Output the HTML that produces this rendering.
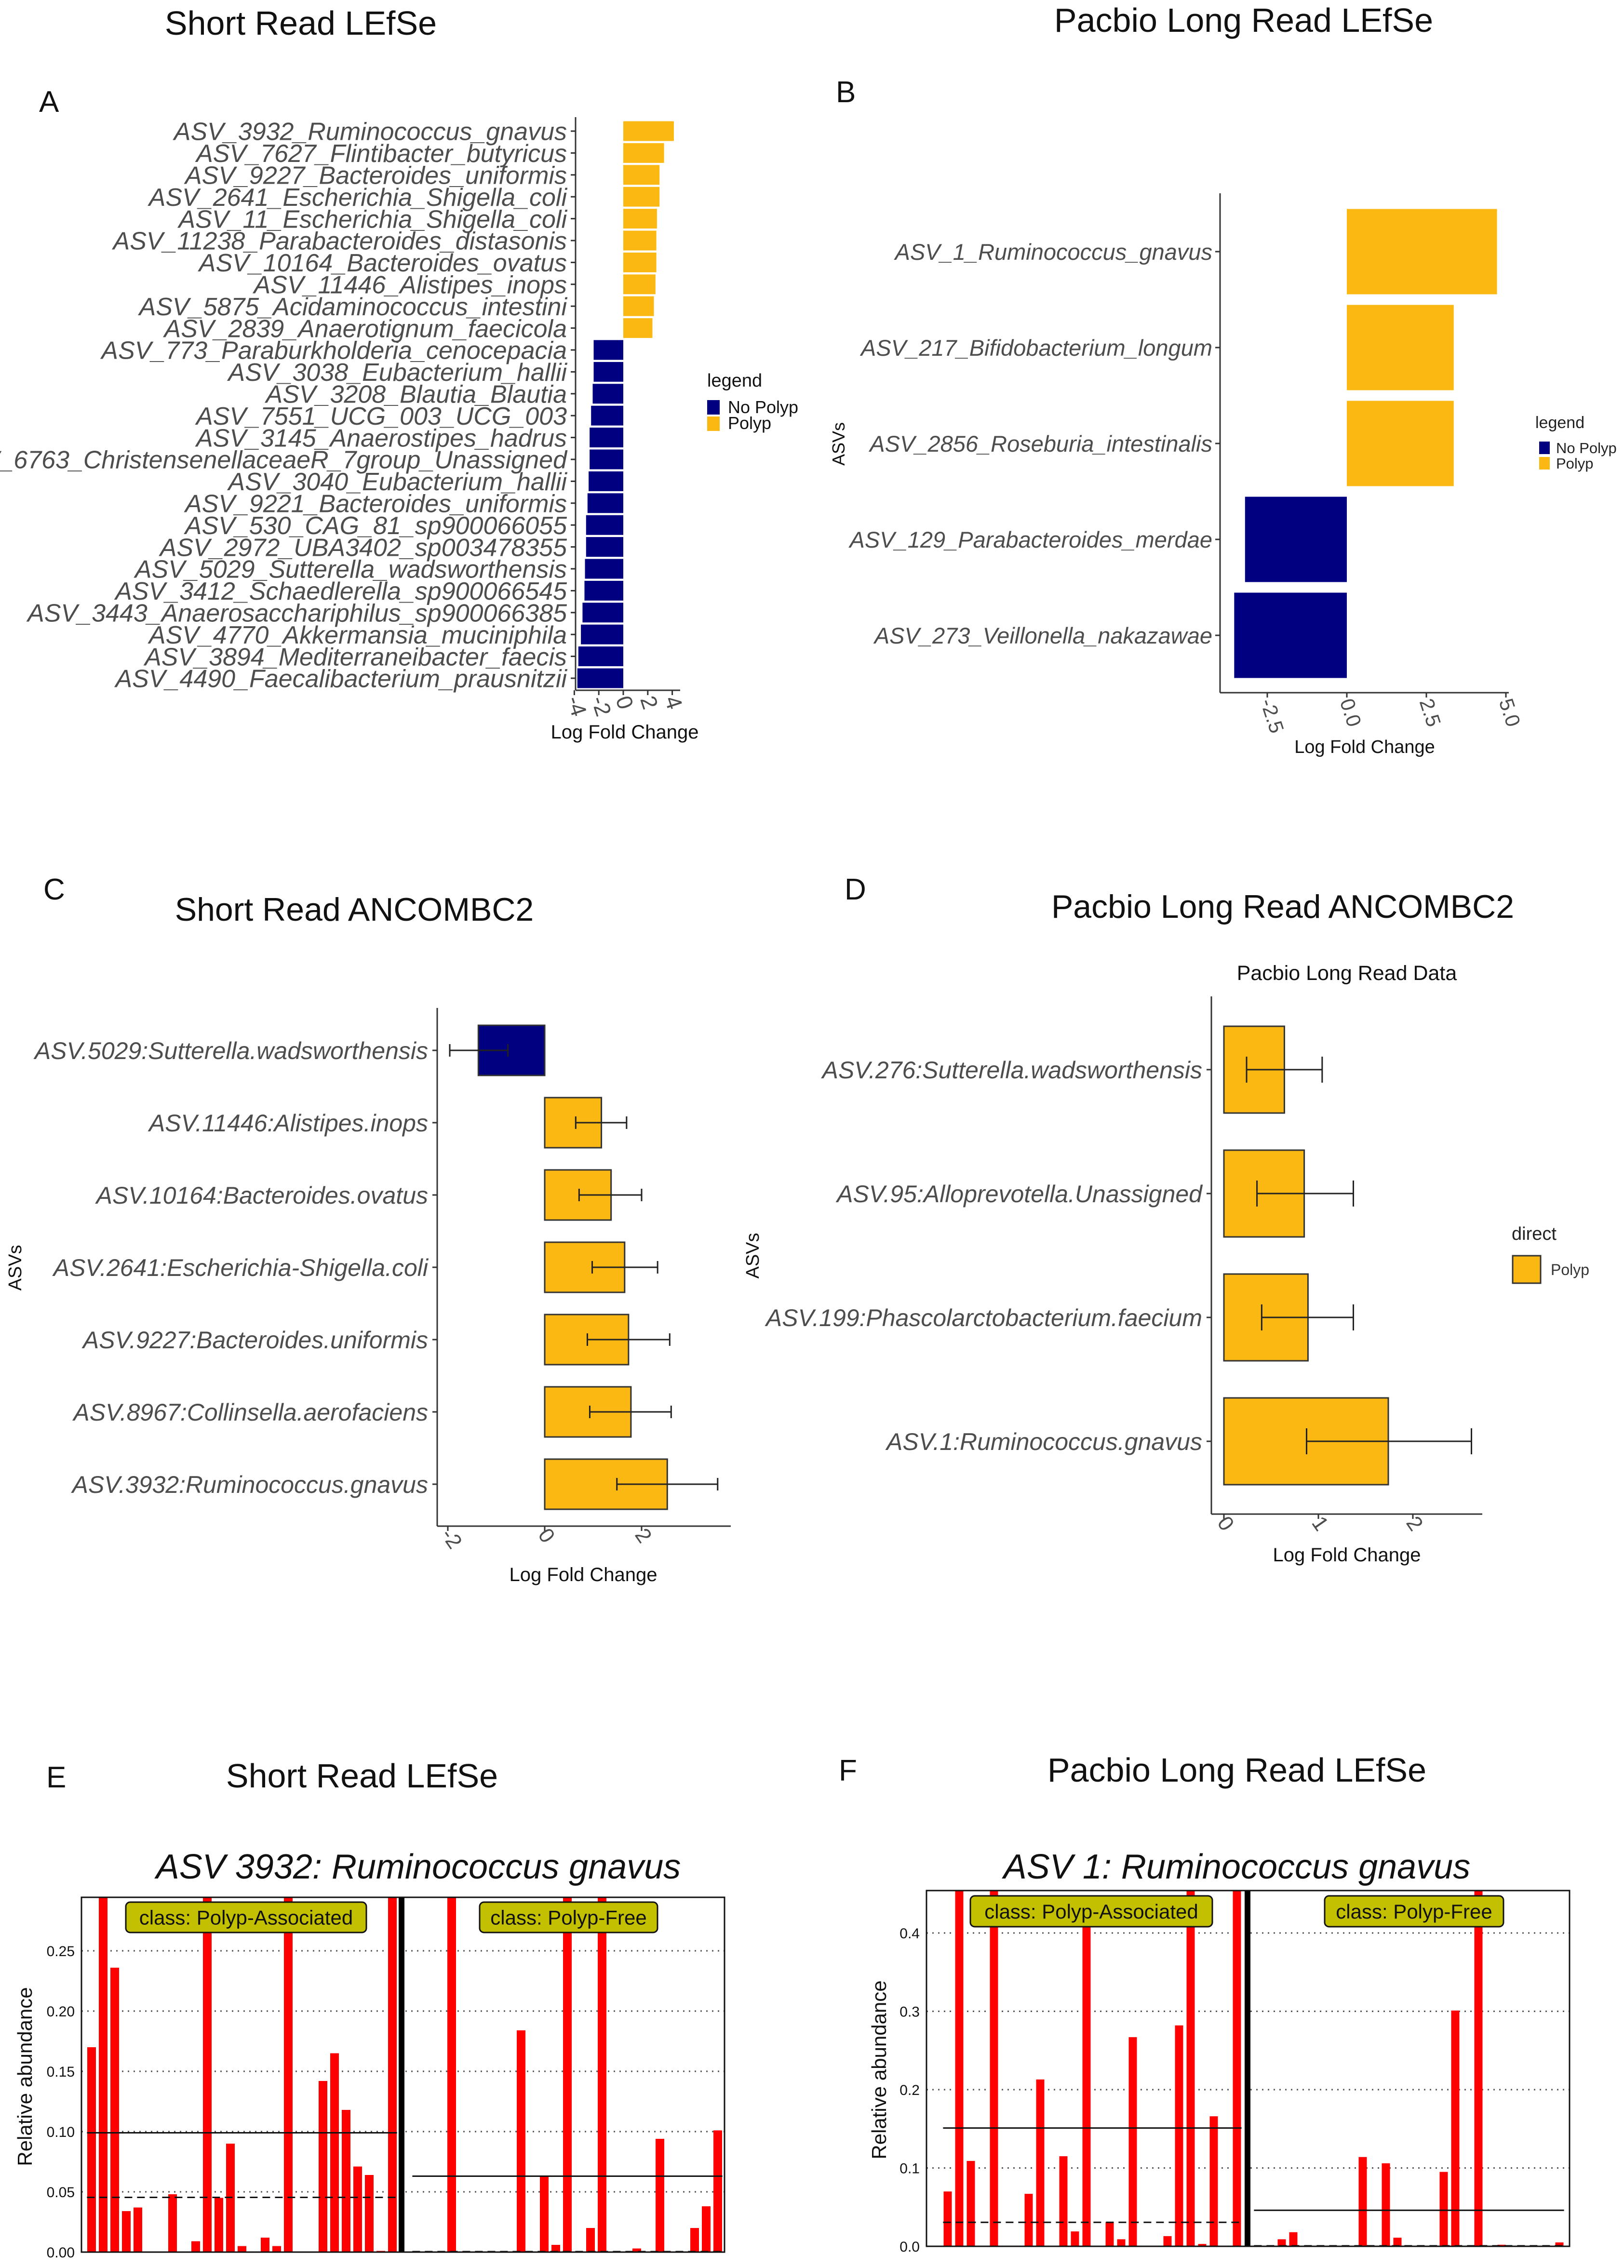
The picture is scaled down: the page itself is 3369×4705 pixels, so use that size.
<!DOCTYPE html>
<html><head><meta charset="utf-8"><style>
html,body{margin:0;padding:0;background:#fff;}
svg{display:block;font-family:"Liberation Sans",sans-serif;}
</style></head><body>
<svg id="fig" xmlns="http://www.w3.org/2000/svg" width="3369" height="4705" viewBox="0 0 3369 4705">
<rect x="0" y="0" width="3369" height="4705" fill="#fff"/>
<text x="624" y="72" font-size="70" text-anchor="middle" fill="#111">Short Read LEfSe</text>
<text x="2580" y="66" font-size="70" text-anchor="middle" fill="#111">Pacbio Long Read LEfSe</text>
<text x="81" y="232" font-size="62" fill="#111">A</text>
<text x="1734" y="212" font-size="62" fill="#111">B</text>
<text x="90" y="1866" font-size="62" fill="#111">C</text>
<text x="1752" y="1866" font-size="62" fill="#111">D</text>
<text x="735" y="1910" font-size="68" text-anchor="middle" fill="#111">Short Read ANCOMBC2</text>
<text x="2661" y="1904" font-size="68" text-anchor="middle" fill="#111">Pacbio Long Read ANCOMBC2</text>
<text x="2794" y="2033" font-size="43" text-anchor="middle" fill="#111">Pacbio Long Read Data</text>
<text x="96" y="3708" font-size="62" fill="#111">E</text>
<text x="1740" y="3694" font-size="62" fill="#111">F</text>
<text x="751" y="3708" font-size="70" text-anchor="middle" fill="#111">Short Read LEfSe</text>
<text x="2566" y="3696" font-size="70" text-anchor="middle" fill="#111">Pacbio Long Read LEfSe</text>
<text x="868" y="3897" font-size="72" font-style="italic" text-anchor="middle" fill="#111">ASV 3932: Ruminococcus gnavus</text>
<text x="2566" y="3897" font-size="72" font-style="italic" text-anchor="middle" fill="#111">ASV 1: Ruminococcus gnavus</text>
<text x="1467" y="802" font-size="38" fill="#111">legend</text>
<rect x="1467" y="830" width="26" height="30" fill="#000080"/>
<text x="1510" y="857" font-size="36" fill="#111">No Polyp</text>
<rect x="1467" y="864" width="26" height="30" fill="#FBB813"/>
<text x="1510" y="890" font-size="36" fill="#111">Polyp</text>
<text x="3185" y="888" font-size="34" fill="#222">legend</text>
<rect x="3193" y="916" width="22" height="26" fill="#000080"/>
<text x="3228" y="940" font-size="31" fill="#222">No Polyp</text>
<rect x="3193" y="948" width="22" height="26" fill="#FBB813"/>
<text x="3228" y="972" font-size="31" fill="#222">Polyp</text>
<text x="3136" y="2572" font-size="38" fill="#222">direct</text>
<rect x="3138" y="2605" width="58" height="57" fill="#FBB813" stroke="#333" stroke-width="3"/>
<text x="3217" y="2645" font-size="32" fill="#333">Polyp</text>
<g id="plots"></g>
</svg>
<script>
// ---- Panel A data ----
const aLabels = ["ASV_3932_Ruminococcus_gnavus","ASV_7627_Flintibacter_butyricus","ASV_9227_Bacteroides_uniformis","ASV_2641_Escherichia_Shigella_coli","ASV_11_Escherichia_Shigella_coli","ASV_11238_Parabacteroides_distasonis","ASV_10164_Bacteroides_ovatus","ASV_11446_Alistipes_inops","ASV_5875_Acidaminococcus_intestini","ASV_2839_Anaerotignum_faecicola","ASV_773_Paraburkholderia_cenocepacia","ASV_3038_Eubacterium_hallii","ASV_3208_Blautia_Blautia","ASV_7551_UCG_003_UCG_003","ASV_3145_Anaerostipes_hadrus","ASV_6763_ChristensenellaceaeR_7group_Unassigned","ASV_3040_Eubacterium_hallii","ASV_9221_Bacteroides_uniformis","ASV_530_CAG_81_sp900066055","ASV_2972_UBA3402_sp003478355","ASV_5029_Sutterella_wadsworthensis","ASV_3412_Schaedlerella_sp900066545","ASV_3443_Anaerosacchariphilus_sp900066385","ASV_4770_Akkermansia_muciniphila","ASV_3894_Mediterraneibacter_faecis","ASV_4490_Faecalibacterium_prausnitzii"];
const aValues = [4.13,3.33,2.96,2.96,2.75,2.7,2.7,2.63,2.5,2.38,-2.42,-2.42,-2.5,-2.63,-2.75,-2.75,-2.83,-2.92,-3.04,-3.04,-3.13,-3.17,-3.33,-3.46,-3.67,-3.75];
const aTicks = [-4,-2,0,2,4];
// ---- Panel B data ----
const bLabels = ["ASV_1_Ruminococcus_gnavus","ASV_217_Bifidobacterium_longum","ASV_2856_Roseburia_intestinalis","ASV_129_Parabacteroides_merdae","ASV_273_Veillonella_nakazawae"];
const bValues = [4.72,3.36,3.36,-3.2,-3.54];
const bTicks = [-2.5,0,2.5,5];
// ---- Panel C data ----
const cLabels = ["ASV.5029:Sutterella.wadsworthensis","ASV.11446:Alistipes.inops","ASV.10164:Bacteroides.ovatus","ASV.2641:Escherichia-Shigella.coli","ASV.9227:Bacteroides.uniformis","ASV.8967:Collinsella.aerofaciens","ASV.3932:Ruminococcus.gnavus"];
const cValues = [-1.37,1.17,1.37,1.65,1.73,1.78,2.53];
const cLow = [-1.96,0.64,0.71,0.98,0.88,0.93,1.49];
const cHigh = [-0.76,1.69,2.0,2.33,2.58,2.61,3.57];
const cTicks = [-2,0,2];
// ---- Panel D data ----
const dLabels = ["ASV.276:Sutterella.wadsworthensis","ASV.95:Alloprevotella.Unassigned","ASV.199:Phascolarctobacterium.faecium","ASV.1:Ruminococcus.gnavus"];
const dValues = [0.64,0.85,0.89,1.74];
const dLow = [0.24,0.35,0.4,0.875];
const dHigh = [1.04,1.37,1.37,2.62];
const dTicks = [0,1,2];
// ---- Panel E data ----
const eAssoc = [0.17,0.5,0.236,0.034,0.037,0,0,0.048,0,0.009,0.5,0.045,0.09,0.005,0,0.012,0.005,0.5,0,0,0.142,0.165,0.118,0.071,0.064,0.001,0.5];
const eFree = [0,0,0,0.5,0,0,0,0,0,0.184,0,0.063,0.006,0.5,0,0.02,0.5,0,0,0.003,0,0.094,0,0,0.02,0.038,0.101];
const eMeans = [0.099,0.063];
const eMedians = [0.045,0];
const eTicks = [0,0.05,0.1,0.15,0.2,0.25];
// ---- Panel F data ----
const fAssoc = [0.07,0.5,0.109,0,0.5,0,0,0.067,0.213,0,0.115,0.019,0.447,0,0.031,0.009,0.267,0,0,0.013,0.282,0.5,0.003,0.166,0,0.5];
const fFree = [0,0,0.009,0.018,0,0,0,0,0,0.114,0,0.106,0.011,0,0,0,0.095,0.301,0,0.5,0,0.002,0,0,0,0,0.005];
const fMeans = [0.151,0.046];
const fMedians = [0.03,0];
const fTicks = [0,0.1,0.2,0.3,0.4];

const NS = 'http://www.w3.org/2000/svg';
const root = document.getElementById('plots');
function mk(tag, attrs, name, parent, text) {
  const el = document.createElementNS(NS, tag);
  for (const k in attrs) el.setAttribute(k, attrs[k]);
  
  
  if (text != null) el.textContent = text;
  (parent || root).appendChild(el);
  return el;
}
const YEL = '#FBB813', NAVY = '#000080';

function drawH(p) {
  const g = mk('g', {}, p.id + '-chart');
  const xs = v => p.x0 + v * p.ppu;
  const ys = i => p.rowY0 + i * p.rowStep;
  p.labels.forEach((lab, i) => {
    const v = p.values[i];
    const x1 = Math.min(xs(0), xs(v)), w = Math.abs(xs(v) - xs(0));
    const attrs = {x: x1, y: ys(i) - p.barH / 2, width: w, height: p.barH, fill: v >= 0 ? YEL : NAVY};
    if (p.border) { attrs.stroke = '#333'; attrs['stroke-width'] = 3; }
    mk('rect', attrs, 'bar-' + lab, g);
    mk('line', {x1: p.axisX - 10, x2: p.axisX, y1: ys(i), y2: ys(i), stroke: '#333', 'stroke-width': 3}, 'y-tick', g);
    mk('text', {x: p.labelX, y: ys(i) + p.fs * 0.36, 'font-size': p.fs, 'font-style': 'italic', 'text-anchor': 'end', fill: '#4d4d4d'}, 'y-tick-label', g, lab);
    if (p.lo) {
      const yc = ys(i);
      mk('line', {x1: xs(p.lo[i]), x2: xs(p.hi[i]), y1: yc, y2: yc, stroke: '#222', 'stroke-width': 3}, 'error-bar', g);
      mk('line', {x1: xs(p.lo[i]), x2: xs(p.lo[i]), y1: yc - p.cap, y2: yc + p.cap, stroke: '#222', 'stroke-width': 3}, 'error-cap-low', g);
      mk('line', {x1: xs(p.hi[i]), x2: xs(p.hi[i]), y1: yc - p.cap, y2: yc + p.cap, stroke: '#222', 'stroke-width': 3}, 'error-cap-high', g);
    }
  });
  mk('line', {x1: p.axisX, x2: p.axisX, y1: p.axisTop, y2: p.axisBottom, stroke: '#333', 'stroke-width': 3}, 'y-axis', g);
  mk('line', {x1: p.axisX, x2: p.axisRight, y1: p.axisBottom, y2: p.axisBottom, stroke: '#333', 'stroke-width': 3}, 'x-axis', g);
  p.ticks.forEach(t => {
    const x = xs(t);
    mk('line', {x1: x, x2: x, y1: p.axisBottom, y2: p.axisBottom + 10, stroke: '#333', 'stroke-width': 3}, 'x-tick', g);
    const ty = p.axisBottom + 18;
    mk('text', {x: x - p.tfs * 0.35, y: ty, 'font-size': p.tfs, fill: '#4d4d4d', transform: 'rotate(' + p.rot + ' ' + (x - p.tfs * 0.35) + ' ' + ty + ')'}, 'x-tick-label', g, p.fmt(t));
  });
  mk('text', {x: p.xtX, y: p.xtY, 'font-size': p.xtFs, 'text-anchor': 'middle', fill: '#111'}, 'x-axis-title', g, 'Log Fold Change');
  if (p.ylab) mk('text', {x: p.ylab[0], y: p.ylab[1], 'font-size': p.ylab[2], 'text-anchor': 'middle', fill: '#111', transform: 'rotate(-90 ' + p.ylab[0] + ' ' + p.ylab[1] + ')'}, 'y-axis-title', g, 'ASVs');
}

drawH({id: 'a', labels: aLabels, values: aValues, x0: 1293, ppu: 25.4, axisX: 1194, axisRight: 1411, rowY0: 272, rowStep: 45.4, barH: 41, axisTop: 243, axisBottom: 1432, labelX: 1176, fs: 52, ticks: aTicks, fmt: t => String(t), tfs: 46, rot: 72, xtX: 1296, xtY: 1532, xtFs: 40});
drawH({id: 'b', labels: bLabels, values: bValues, x0: 2794, ppu: 66, axisX: 2531, axisRight: 3130, rowY0: 522, rowStep: 199, barH: 177, axisTop: 401, axisBottom: 1437, labelX: 2515, fs: 47, ticks: bTicks, fmt: t => t.toFixed(1), tfs: 42, rot: 72, xtX: 2831, xtY: 1562, xtFs: 38, ylab: [1752, 921, 36]});
drawH({id: 'c', labels: cLabels, values: cValues, lo: cLow, hi: cHigh, cap: 13, border: true, x0: 1130, ppu: 100.5, axisX: 907, axisRight: 1516, rowY0: 2179, rowStep: 150, barH: 104, axisTop: 2091, axisBottom: 3166, labelX: 888, fs: 50, ticks: cTicks, fmt: t => String(t), tfs: 44, rot: 55, xtX: 1210, xtY: 3280, xtFs: 40, ylab: [44, 2630, 38]});
drawH({id: 'd', labels: dLabels, values: dValues, lo: dLow, hi: dHigh, cap: 27, border: true, x0: 2539, ppu: 196, axisX: 2513, axisRight: 3075, rowY0: 2219, rowStep: 257, barH: 180, axisTop: 2067, axisBottom: 3141, labelX: 2494, fs: 50, ticks: dTicks, fmt: t => String(t), tfs: 44, rot: 55, xtX: 2794, xtY: 3239, xtFs: 40, ylab: [1574, 2605, 38]});

function drawV(p) {
  const g = mk('g', {}, p.id + '-chart');
  const ys = v => p.y0 - v * p.ppu;
  const cp = mk('clipPath', {id: p.id + '-clip'}, 'clip', g);
  mk('rect', {x: p.left, y: p.top, width: p.right - p.left, height: p.y0 - p.top}, 'clip-rect', cp);
  p.ticks.forEach(t => {
    if (t > 0) mk('line', {x1: p.left, x2: p.right, y1: ys(t), y2: ys(t), stroke: '#555', 'stroke-width': 3, 'stroke-dasharray': '3 9'}, 'gridline', g);
    mk('text', {x: p.left - 14, y: ys(t) + 11, 'font-size': 30, 'text-anchor': 'end', fill: '#111'}, 'y-tick-label', g, p.fmt(t));
  });
  const bars = mk('g', {'clip-path': 'url(#' + p.id + '-clip)'}, 'bars', g);
  [p.assoc, p.free].forEach((arr, gi) => {
    const c0 = gi === 0 ? p.c0L : p.c0R;
    arr.forEach((v, i) => {
      const cx = c0 + i * p.step;
      if (v > 0) mk('rect', {x: cx - p.bw / 2, y: ys(v), width: p.bw, height: p.y0 - ys(v), fill: '#ff0000'}, 'bar-sample-' + (gi === 0 ? 'assoc-' : 'free-') + i, bars);
    });
    const xa = c0 - p.step * 0.4, xb = c0 + (arr.length - 1) * p.step + p.step * 0.4;
    mk('line', {x1: xa, x2: xb, y1: ys(p.means[gi]), y2: ys(p.means[gi]), stroke: '#111', 'stroke-width': 3}, 'mean-line', bars);
    mk('line', {x1: xa, x2: xb, y1: ys(p.medians[gi]) - 1, y2: ys(p.medians[gi]) - 1, stroke: '#111', 'stroke-width': 3, 'stroke-dasharray': '16 10'}, 'median-line', bars);
  });
  mk('rect', {x: p.div - 6, y: p.top, width: 12, height: p.y0 - p.top, fill: '#000'}, 'class-divider', g);
  mk('rect', {x: p.left, y: p.top, width: p.right - p.left, height: p.y0 - p.top, fill: 'none', stroke: '#111', 'stroke-width': 3}, 'plot-frame', g);
  p.boxes.forEach(b => {
    mk('rect', {x: b[0], y: b[1], width: b[2] - b[0], height: b[3] - b[1], rx: 9, fill: '#C2C000', stroke: '#111', 'stroke-width': 3}, 'class-badge', g);
    mk('text', {x: (b[0] + b[2]) / 2, y: (b[1] + b[3]) / 2 + 15, 'font-size': 42, 'text-anchor': 'middle', fill: '#111'}, 'class-badge-label', g, b[4]);
  });
  mk('text', {x: p.ylab[0], y: p.ylab[1], 'font-size': 42, 'text-anchor': 'middle', fill: '#111', transform: 'rotate(-90 ' + p.ylab[0] + ' ' + p.ylab[1] + ')'}, 'y-axis-title', g, 'Relative abundance');
}

drawV({id: 'e', assoc: eAssoc, free: eFree, means: eMeans, medians: eMedians, ticks: eTicks, fmt: t => t.toFixed(2), y0: 4672, ppu: 2500, top: 3936, left: 169, right: 1503, div: 833, c0L: 190, c0R: 865, step: 24, bw: 18, boxes: [[261, 3946, 760, 4009, 'class: Polyp-Associated'], [995, 3946, 1364, 4009, 'class: Polyp-Free']], ylab: [66, 4308]});
drawV({id: 'f', assoc: fAssoc, free: fFree, means: fMeans, medians: fMedians, ticks: fTicks, fmt: t => t.toFixed(1), y0: 4660, ppu: 1625, top: 3922, left: 1922, right: 3256, div: 2588, c0L: 1966, c0R: 2611, step: 24, bw: 17, boxes: [[2013, 3933, 2515, 3997, 'class: Polyp-Associated'], [2748, 3933, 3119, 3997, 'class: Polyp-Free']], ylab: [1838, 4294]});
</script>
</body></html>
